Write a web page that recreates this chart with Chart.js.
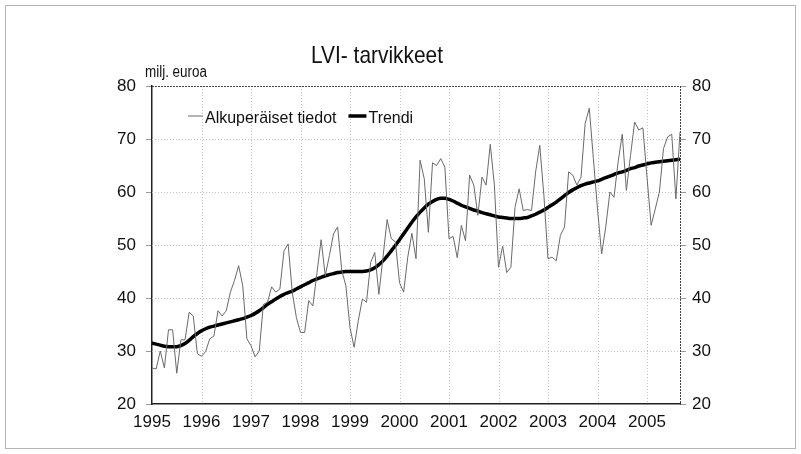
<!DOCTYPE html>
<html>
<head>
<meta charset="utf-8">
<script src="https://cdn.jsdelivr.net/npm/chart.js@4/dist/chart.umd.min.js"></script>
<style>
  html, body { margin: 0; padding: 0; background: #fff; }
  canvas { display: block; }
</style>
</head>
<body>
<canvas id="lvi" width="801" height="454"></canvas>
<script>
var years = ['1995', '1996', '1997', '1998', '1999', '2000', '2001', '2002', '2003', '2004', '2005'];
var lastMonth = 9; // data runs to September 2005

// monthly categories, Jan 1995 .. Sep 2005
var months = [];
years.forEach(function (y, yi) {
    var n = (yi === years.length - 1) ? lastMonth : 12;
    for (var m = 1; m <= n; m++) months.push(y + '-' + m);
});

var original = [
    26.8, 26.6, 30.0, 26.8, 34.0, 34.0, 25.8, 32.1, 32.1, 37.3, 36.6, 29.5,
    29.0, 29.9, 32.3, 32.8, 37.6, 36.6, 37.6, 41.1, 43.3, 46.1, 42.3, 32.3,
    31.0, 28.9, 30.0, 38.8, 39.2, 42.1, 41.1, 41.7, 48.9, 50.2, 41.1, 36.3,
    33.5, 33.5, 39.5, 38.5, 44.8, 51.0, 44.2, 48.0, 52.1, 53.4, 45.2, 42.3,
    34.4, 30.7, 35.7, 39.8, 39.2, 46.7, 48.6, 40.7, 47.7, 54.8, 51.2, 50.6,
    42.9, 41.1, 47.7, 52.2, 47.4, 66.0, 62.5, 52.4, 65.5, 65.0, 66.3, 64.7,
    51.2, 51.6, 47.6, 53.7, 50.8, 63.2, 61.3, 55.6, 62.8, 61.3, 69.0, 61.3,
    45.8, 49.8, 44.8, 45.8, 57.1, 60.6, 56.5, 56.7, 56.5, 63.8, 68.8, 59.4,
    47.4, 47.7, 47.0, 51.8, 53.4, 63.8, 63.2, 61.3, 62.8, 72.9, 75.8, 66.3,
    56.8, 48.3, 53.4, 60.0, 59.0, 65.7, 70.9, 60.3, 66.9, 73.2, 71.7, 72.1,
    62.8, 53.7, 56.8, 60.0, 68.2, 70.4, 70.9, 58.7, 71.3
];

var trend = [
    31.5, 31.3, 31.1, 30.9, 30.8, 30.8, 30.8, 31.0, 31.4, 32.0, 32.7, 33.3,
    33.8, 34.2, 34.5, 34.7, 34.9, 35.1, 35.3, 35.5, 35.7, 35.9, 36.1, 36.4,
    36.7, 37.1, 37.6, 38.2, 38.8, 39.3, 39.8, 40.3, 40.7, 41.0, 41.3, 41.7,
    42.1, 42.5, 42.9, 43.3, 43.6, 43.9, 44.2, 44.4, 44.6, 44.8, 44.9, 45.0,
    45.0, 45.0, 45.0, 45.0, 45.1, 45.3, 45.7, 46.3, 47.0, 47.9, 48.9, 49.9,
    51.0, 52.1, 53.2, 54.3, 55.3, 56.2, 57.0, 57.7, 58.2, 58.6, 58.8, 58.8,
    58.6, 58.3, 57.9, 57.5, 57.2, 56.9, 56.6, 56.4, 56.1, 55.9, 55.7, 55.5,
    55.3, 55.2, 55.1, 55.0, 55.0, 55.0, 55.1, 55.2, 55.5, 55.8, 56.2, 56.6,
    57.1, 57.6, 58.1, 58.7, 59.3, 59.9, 60.4, 60.8, 61.2, 61.5, 61.7, 61.9,
    62.1, 62.4, 62.7, 63.0, 63.3, 63.6, 63.8, 64.1, 64.4, 64.6, 64.9, 65.1,
    65.3, 65.5, 65.6, 65.7, 65.8, 65.9, 66.0, 66.1, 66.2
];

var yMin = 20, yMax = 80, yStep = 10;
var FONT = '"Liberation Sans", Arial, sans-serif';

// draws text squeezed horizontally, the original uses a narrow face
function narrowText(ctx, txt, x, y, size, align, sx) {
    ctx.save();
    ctx.font = size + 'px ' + FONT;
    ctx.fillStyle = '#111';
    ctx.textBaseline = 'alphabetic';
    var w = ctx.measureText(txt).width * sx;
    var left = align === 'center' ? x - w / 2 : x;
    ctx.translate(left, y);
    ctx.scale(sx, 1);
    ctx.textAlign = 'left';
    ctx.fillText(txt, 0, 0);
    ctx.restore();
    return w;
}

var decor = {
    id: 'decor',
    beforeDraw: function (chart) {
        var ctx = chart.ctx;
        ctx.save();
        ctx.fillStyle = '#fff';
        ctx.fillRect(0, 0, chart.width, chart.height);
        ctx.strokeStyle = '#b5b5b5';
        ctx.lineWidth = 1;
        ctx.strokeRect(5.5, 5.5, chart.width - 11, chart.height - 11);
        ctx.restore();
    },
    beforeDatasetsDraw: function (chart) {
        // dotted grid at the year starts and the value ticks
        var ctx = chart.ctx, a = chart.chartArea;
        var xs = chart.scales.x, ys = chart.scales.y;
        ctx.save();
        ctx.lineWidth = 1;
        ctx.setLineDash([1, 2]);
        ctx.strokeStyle = '#c4c4c4';
        ctx.beginPath();
        for (var v = yMin + yStep; v < yMax; v += yStep) {
            var py = Math.round(ys.getPixelForValue(v)) + 0.5;
            ctx.moveTo(a.left, py);
            ctx.lineTo(a.right, py);
        }
        years.forEach(function (y, i) {
            if (i === 0) return;
            var px = Math.round(xs.getPixelForValue(months.indexOf(y + '-1'))) + 0.5;
            ctx.moveTo(px, a.top);
            ctx.lineTo(px, a.bottom);
        });
        ctx.stroke();
        ctx.restore();
    },
    afterDraw: function (chart) {
        var ctx = chart.ctx, a = chart.chartArea;
        ctx.save();
        // dotted top and right frame of the plot
        ctx.strokeStyle = '#444';
        ctx.lineWidth = 1;
        ctx.setLineDash([2, 1]);
        ctx.beginPath();
        ctx.moveTo(a.left, a.top + 0.5);
        ctx.lineTo(a.right, a.top + 0.5);
        ctx.moveTo(a.right + 0.5, a.top);
        ctx.lineTo(a.right + 0.5, a.bottom);
        ctx.stroke();
        ctx.setLineDash([]);

        narrowText(ctx, 'LVI- tarvikkeet', 377, 63, 24, 'center', 0.87);
        narrowText(ctx, 'milj. euroa', 145, 77, 16, 'left', 0.84);

        // legend inside plot
        var ds = chart.data.datasets;
        var lx = 188, ly = 116;
        ctx.strokeStyle = ds[0].borderColor;
        ctx.lineWidth = ds[0].borderWidth;
        ctx.beginPath(); ctx.moveTo(lx, ly); ctx.lineTo(lx + 15, ly); ctx.stroke();
        var w = narrowText(ctx, ds[0].label, lx + 17, 123, 17, 'left', 0.94);
        var tx = lx + 17 + w + 12;
        ctx.strokeStyle = ds[1].borderColor;
        ctx.lineWidth = ds[1].borderWidth;
        ctx.beginPath(); ctx.moveTo(tx, ly); ctx.lineTo(tx + 18, ly); ctx.stroke();
        narrowText(ctx, ds[1].label, tx + 20, 123, 17, 'left', 0.94);
        ctx.restore();
    }
};

var ctx = document.getElementById('lvi').getContext('2d');

var chart = new Chart(ctx, {
    type: 'line',
    data: {
        labels: months,
        datasets: [{
            label: 'Alkuperäiset tiedot',
            data: original,
            borderColor: '#6a6a6a',
            borderWidth: 1,
            pointRadius: 0,
            tension: 0,
            yAxisID: 'y'
        }, {
            label: 'Trendi',
            data: trend,
            borderColor: '#000',
            borderWidth: 3.5,
            pointRadius: 0,
            tension: 0.3,
            yAxisID: 'y'
        }]
    },
    options: {
        responsive: false,
        animation: false,
        events: [],
        layout: { padding: { top: 86, left: 0, right: 0, bottom: 0 } },
        plugins: {
            legend: { display: false },
            title: { display: false },
            tooltip: { enabled: false }
        },
        scales: {
            x: {
                type: 'category',
                offset: false,
                grid: { display: false, drawTicks: false },
                border: { display: true, color: '#222', width: 1.5 },
                ticks: {
                    autoSkip: false,
                    maxRotation: 0,
                    padding: 8,
                    color: '#111',
                    font: { family: FONT, size: 17 },
                    callback: function (v) {
                        var lab = this.getLabelForValue(v);
                        return lab.slice(-2) === '-1' ? lab.slice(0, 4) : null;
                    }
                },
                afterFit: function (s) { s.height = 50; }
            },
            y: {
                position: 'left',
                min: yMin, max: yMax,
                grid: { drawOnChartArea: false, tickLength: 6, tickColor: '#999' },
                border: { color: '#222', width: 1.5 },
                ticks: {
                    stepSize: yStep,
                    padding: 10,
                    color: '#111',
                    font: { family: FONT, size: 17 }
                },
                afterFit: function (s) { s.width = 152; }
            },
            y2: {
                position: 'right',
                min: yMin, max: yMax,
                grid: { drawOnChartArea: false, tickLength: 6, tickColor: '#999' },
                border: { display: false },
                ticks: {
                    stepSize: yStep,
                    padding: 6,
                    color: '#111',
                    font: { family: FONT, size: 17 }
                },
                afterFit: function (s) { s.width = 121; }
            }
        }
    },
    plugins: [decor]
});
</script>
</body>
</html>
